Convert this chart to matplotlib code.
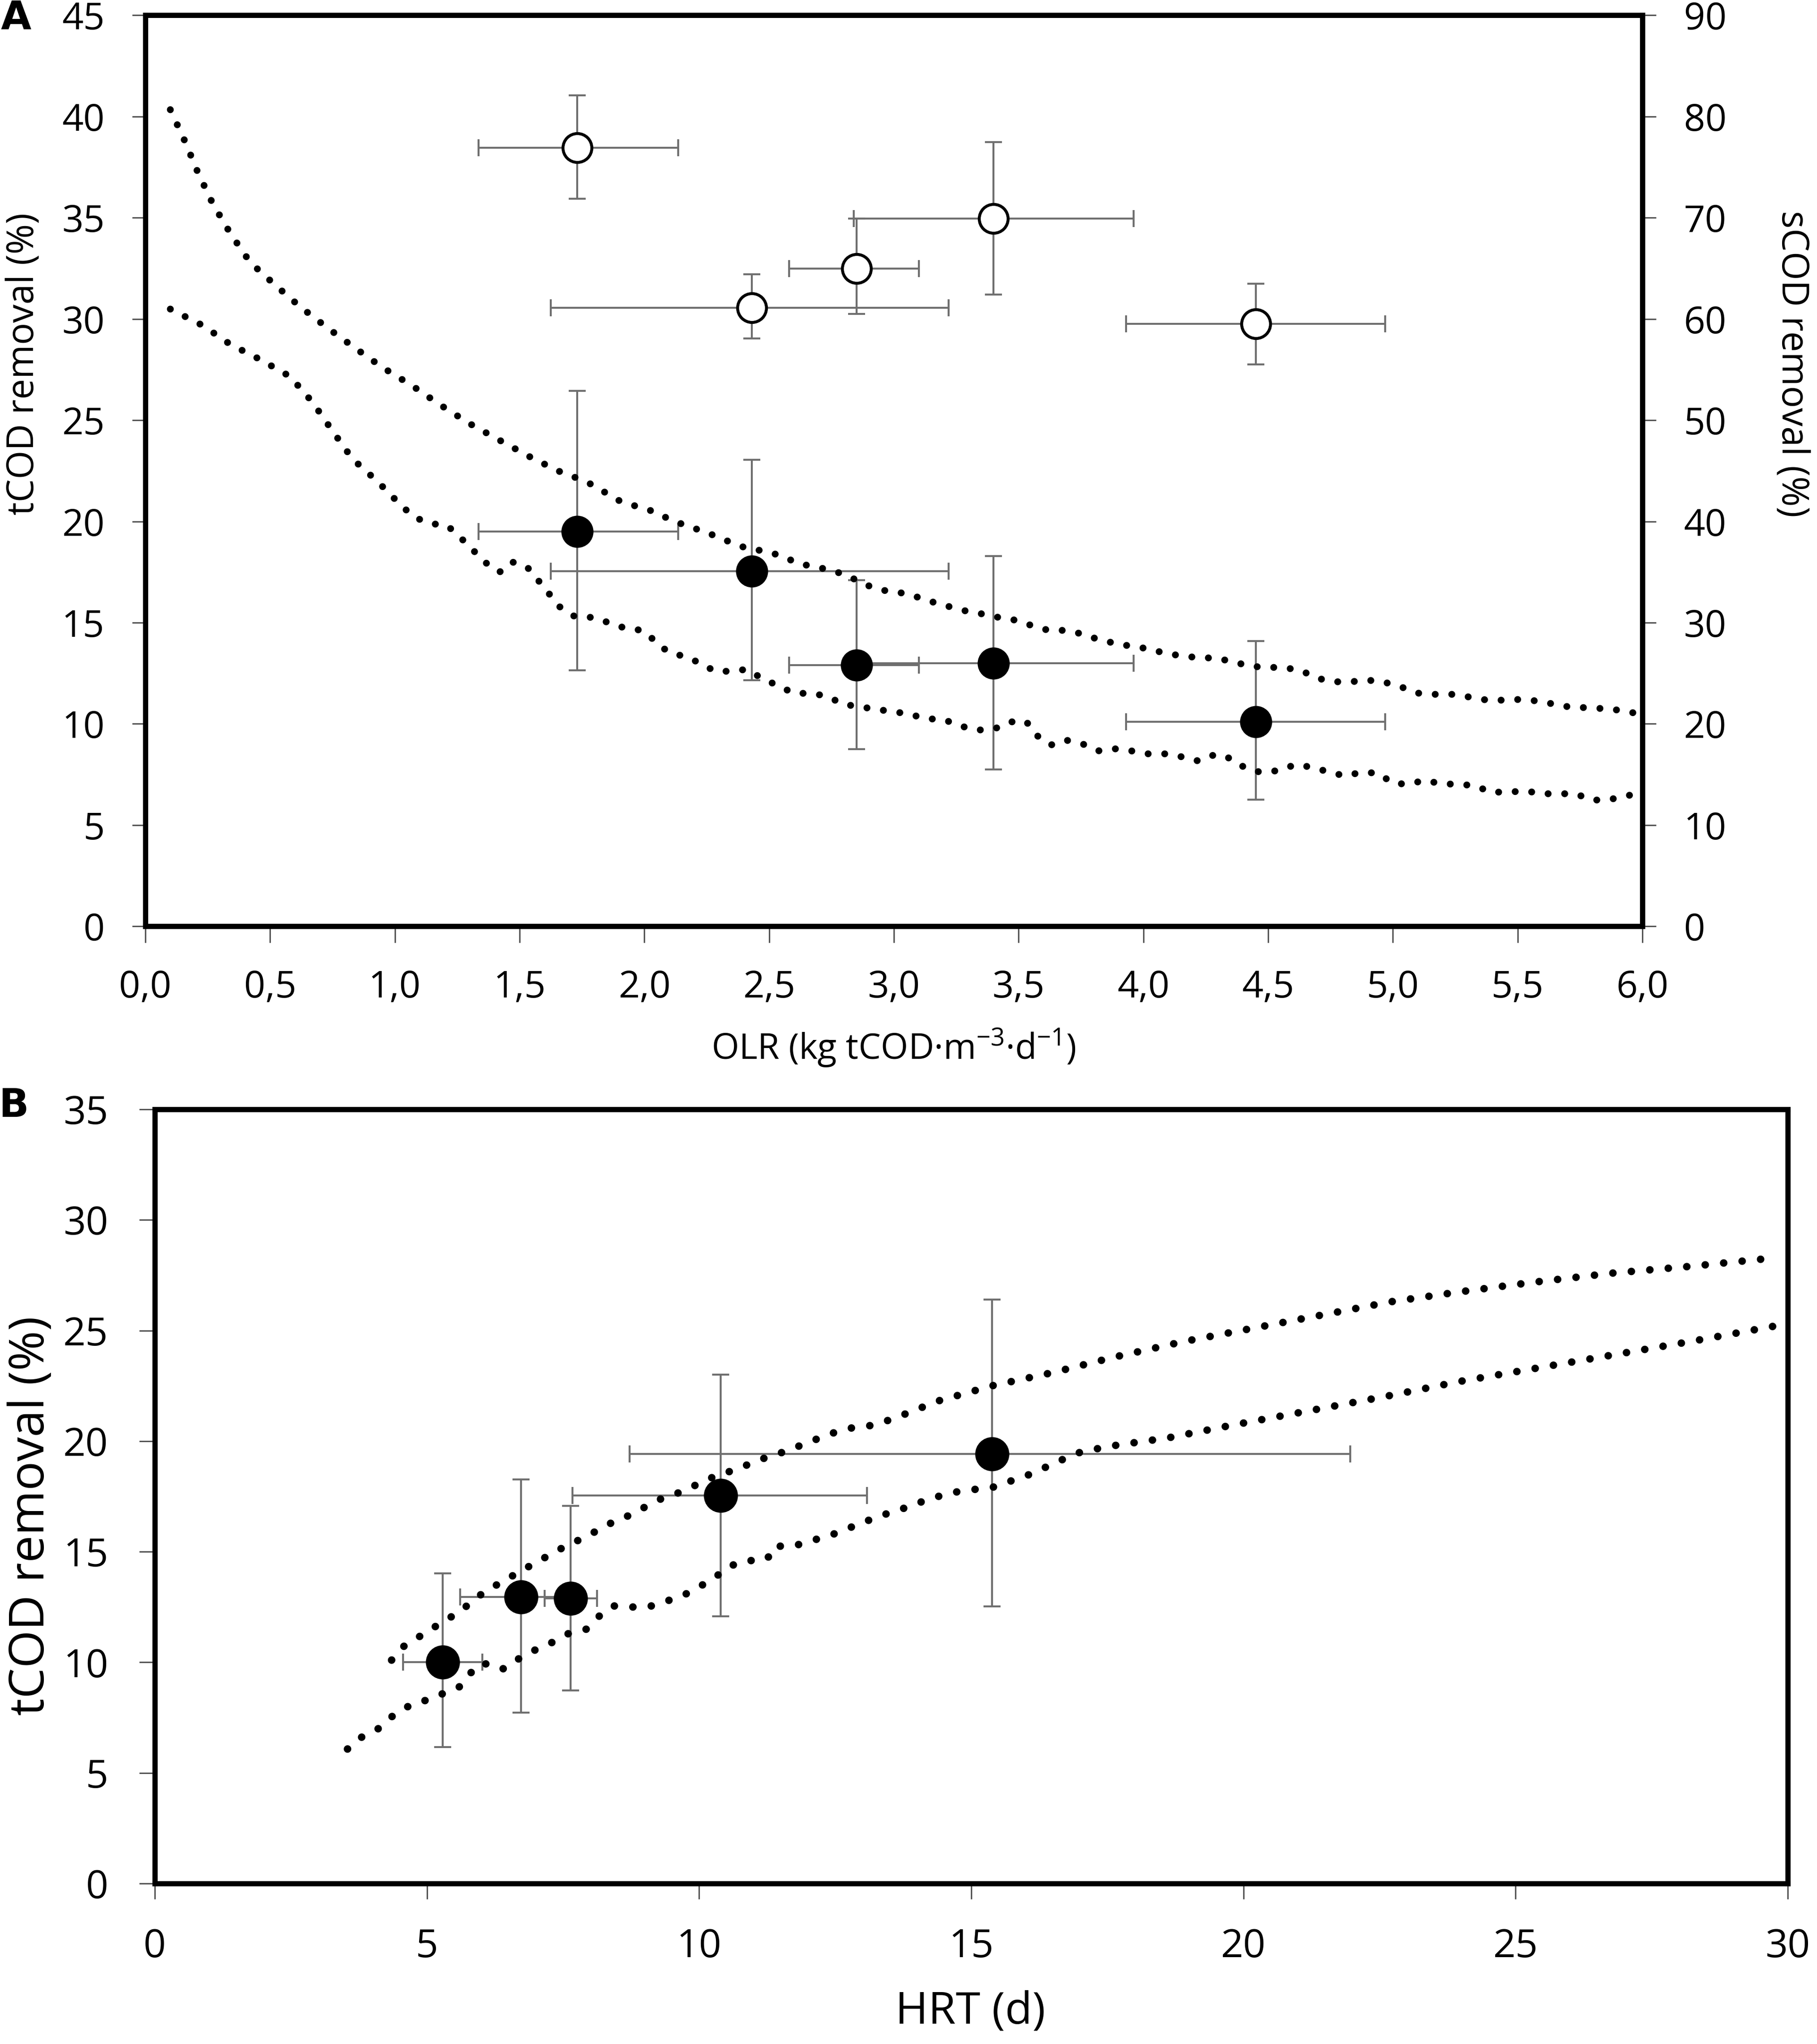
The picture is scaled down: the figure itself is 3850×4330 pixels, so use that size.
import numpy as np
import matplotlib
matplotlib.use("Agg")
import matplotlib.pyplot as plt

plt.rcParams['font.family'] = ['Open Sans', 'DejaVu Sans']
plt.rcParams['mathtext.default'] = 'regular'

# ---- panel A: removal vs OLR ----
olr = [1.73, 2.43, 2.85, 3.40, 4.45]
olr_lo = [1.335, 1.625, 2.58, 2.84, 3.93]
olr_hi = [2.135, 3.22, 3.10, 3.96, 4.97]

tcod = [19.5, 17.55, 12.9, 13.0, 10.1]
tcod_lo = [12.65, 12.15, 8.75, 7.75, 6.25]
tcod_hi = [26.45, 23.05, 17.1, 18.3, 14.1]

scod = [76.9, 61.1, 65.0, 69.9, 59.5]
scod_lo = [71.9, 58.1, 60.5, 62.4, 55.5]
scod_hi = [82.1, 64.4, 69.9, 77.5, 63.5]

# dotted envelope curves
a_up_x = [0.10, 0.16, 0.21, 0.27, 0.34, 0.42, 0.52, 0.62, 0.73, 0.84, 0.95, 1.07, 1.18, 1.30,
          1.42, 1.54, 1.60, 1.66, 1.73, 1.79, 1.85, 1.91, 1.98, 2.04, 2.10, 2.17, 2.23, 2.30,
          2.36, 2.42, 2.49, 2.56, 2.62, 2.69, 2.76, 2.82, 2.88, 2.95, 3.02, 3.09, 3.15, 3.22,
          3.28, 3.35, 3.42, 3.48, 3.55, 3.62, 3.68, 3.75, 3.82, 3.89, 3.95, 4.02, 4.09, 4.16,
          4.23, 4.29, 4.36, 4.43, 4.49, 4.56, 4.63, 4.70, 4.76, 4.83, 4.90, 4.96, 5.03, 5.10,
          5.17, 5.24, 5.30, 5.37, 5.44, 5.51, 5.58, 5.64, 5.71, 5.78, 5.85, 5.92, 5.99]
a_up_y = [40.34, 38.74, 37.25, 35.70, 34.24, 32.80, 31.68, 30.61, 29.56, 28.57, 27.61, 26.70,
          25.77, 24.83, 24.01, 23.20, 22.83, 22.47, 22.14, 21.82, 21.38, 20.95, 20.71, 20.48,
          20.11, 19.78, 19.54, 19.21, 18.89, 18.64, 18.53, 18.24, 17.91, 17.75, 17.55, 17.29,
          16.90, 16.61, 16.50, 16.28, 16.04, 15.80, 15.60, 15.44, 15.26, 15.14, 14.87, 14.62,
          14.62, 14.46, 14.17, 13.97, 13.84, 13.71, 13.48, 13.35, 13.26, 13.26, 13.06, 12.85,
          12.79, 12.79, 12.64, 12.25, 12.08, 12.08, 12.16, 12.08, 11.84, 11.52, 11.46, 11.46,
          11.34, 11.19, 11.17, 11.21, 11.13, 10.99, 10.83, 10.80, 10.75, 10.66, 10.48]

a_lo_x = [0.10, 0.23, 0.34, 0.46, 0.58, 0.67, 0.75, 0.83, 0.93, 1.03, 1.08, 1.14, 1.21, 1.28,
          1.32, 1.37, 1.42, 1.47, 1.53, 1.58, 1.62, 1.66, 1.72, 1.79, 1.85, 1.92, 1.99, 2.04,
          2.09, 2.16, 2.22, 2.28, 2.35, 2.41, 2.47, 2.54, 2.60, 2.67, 2.73, 2.80, 2.86, 2.93,
          3.00, 3.07, 3.13, 3.20, 3.27, 3.33, 3.40, 3.47, 3.53, 3.57, 3.63, 3.69, 3.76, 3.82,
          3.89, 3.95, 4.02, 4.09, 4.16, 4.22, 4.29, 4.35, 4.41, 4.47, 4.54, 4.61, 4.67, 4.74,
          4.81, 4.87, 4.94, 5.00, 5.06, 5.13, 5.19, 5.26, 5.33, 5.39, 5.46, 5.53, 5.60, 5.66,
          5.73, 5.80, 5.86, 5.93, 5.99]
a_lo_y = [30.49, 29.68, 28.75, 28.00, 27.16, 25.89, 24.47, 23.09, 21.98, 20.73, 20.20, 19.90,
          19.80, 19.00, 18.50, 17.90, 17.50, 18.00, 17.75, 17.01, 16.40, 15.79, 15.31, 15.26,
          15.03, 14.74, 14.62, 14.13, 13.60, 13.32, 13.03, 12.62, 12.59, 12.70, 12.26, 11.86,
          11.51, 11.51, 11.37, 10.96, 10.86, 10.71, 10.61, 10.45, 10.26, 10.21, 9.89, 9.69,
          9.74, 10.10, 10.13, 9.45, 8.96, 9.20, 8.99, 8.67, 8.77, 8.67, 8.52, 8.52, 8.36, 8.17,
          8.50, 8.29, 7.81, 7.61, 7.69, 7.99, 7.87, 7.64, 7.42, 7.61, 7.57, 7.07, 7.02, 7.22,
          7.04, 7.02, 6.95, 6.63, 6.63, 6.69, 6.55, 6.55, 6.55, 6.24, 6.24, 6.43, 6.58]

olr_ticks = [0.0, 0.5, 1.0, 1.5, 2.0, 2.5, 3.0, 3.5, 4.0, 4.5, 5.0, 5.5, 6.0]
olr_ticklabels = ['0,0', '0,5', '1,0', '1,5', '2,0', '2,5', '3,0', '3,5', '4,0', '4,5',
                  '5,0', '5,5', '6,0']

# ---- panel B: removal vs HRT ----
hrt = [5.29, 6.73, 7.64, 10.40, 15.38]
hrt_lo = [4.56, 5.61, 7.16, 7.67, 8.72]
hrt_hi = [6.02, 7.85, 8.12, 13.08, 21.96]
tcod_b = [10.0, 12.96, 12.88, 17.54, 19.42]
tcod_b_lo = [6.17, 7.72, 8.74, 12.09, 12.53]
tcod_b_hi = [14.02, 18.27, 17.07, 23.0, 26.39]

b_up_x = [4.35, 4.56, 4.82, 5.11, 5.37, 5.62, 5.86, 6.14, 6.42, 6.71, 6.99, 7.29, 7.58, 7.86,
          8.16, 8.46, 8.78, 9.06, 9.35, 9.67, 9.97, 10.28, 10.59, 10.91, 11.22, 11.54, 11.86,
          12.17, 12.50, 12.81, 13.14, 13.43, 13.76, 14.07, 14.37, 15.38, 16.50, 17.63, 18.90,
          20.17, 21.44, 22.71, 23.98, 25.39, 26.80, 28.21, 29.83]
b_up_y = [10.1, 10.7, 11.1, 11.55, 11.95, 12.3, 12.85, 13.3, 13.7, 14.1, 14.5, 14.9, 15.3, 15.6,
          16.0, 16.4, 16.7, 17.1, 17.45, 17.7, 18.05, 18.4, 18.65, 18.95, 19.25, 19.5, 19.8,
          20.1, 20.4, 20.6, 20.7, 20.9, 21.2, 21.5, 21.8, 22.5, 23.1, 23.8, 24.5, 25.1, 25.7,
          26.3, 26.75, 27.2, 27.6, 27.9, 28.3]

b_lo_x = [3.54, 3.74, 4.12, 4.33, 4.50, 4.80, 5.03, 5.20, 5.42, 5.60, 5.70, 5.93, 6.19, 6.41,
          6.71, 7.02, 7.30, 7.60, 7.93, 8.17, 8.42, 8.75, 9.06, 9.38, 9.69, 9.99, 10.28, 10.51,
          10.86, 11.19, 11.37, 11.40, 11.73, 12.06, 12.37, 12.68, 12.99, 13.30, 13.62, 13.93,
          14.23, 14.81, 15.38, 16.08, 16.93, 17.49, 18.62, 19.75, 21.16, 22.57, 23.98, 25.39,
          26.80, 28.21, 29.76]
b_lo_y = [6.08, 6.54, 7.02, 7.5, 7.8, 8.2, 8.3, 8.5, 8.7, 8.9, 9.2, 9.9, 9.95, 9.7, 10.2, 10.6,
          10.9, 11.3, 11.5, 12.1, 12.55, 12.5, 12.5, 12.75, 13.0, 13.4, 13.8, 14.3, 14.6, 14.6,
          14.95, 15.25, 15.25, 15.5, 15.7, 16.0, 16.3, 16.6, 16.85, 17.1, 17.4, 17.75, 17.9,
          18.5, 19.45, 19.75, 20.15, 20.7, 21.35, 22.0, 22.7, 23.3, 23.9, 24.5, 25.2]

bar_color = '#6f6f6f'
tick_color = '#555555'


def asym(center, lo, hi):
    c = np.asarray(center)
    return [c - np.asarray(lo), np.asarray(hi) - c]


def dotted(ax, x, y, lw, gap):
    ax.plot(x, y, color='black', lw=lw, linestyle=(0, (0.01, gap)),
            dash_capstyle='round', zorder=3)


fig = plt.figure(figsize=(38.5, 43.3), dpi=100)

# ---------------- A ----------------
axA = fig.add_axes([0.0800, 0.5468, 0.8239, 0.4457])
axA2 = axA.twinx()

dotted(axA, a_up_x, a_up_y, 10.5, 2.4)
dotted(axA, a_lo_x, a_lo_y, 10.5, 2.4)

axA.errorbar(olr, tcod, xerr=asym(olr, olr_lo, olr_hi), yerr=asym(tcod, tcod_lo, tcod_hi),
             fmt='none', ecolor=bar_color, elinewidth=3, capsize=13, capthick=3, zorder=2)
axA.plot(olr, tcod, 'o', ms=48, color='black', zorder=5)

axA2.errorbar(olr, scod, xerr=asym(olr, olr_lo, olr_hi), yerr=asym(scod, scod_lo, scod_hi),
              fmt='none', ecolor=bar_color, elinewidth=3, capsize=13, capthick=3, zorder=2)
axA2.plot(olr, scod, 'o', ms=44, mfc='white', mec='black', mew=4.5, zorder=5)

axA.set_xlim(0, 6)
axA.set_ylim(0, 45)
axA2.set_ylim(0, 90)
axA.set_xticks(olr_ticks)
axA.set_xticklabels(olr_ticklabels)
axA.set_yticks(np.arange(0, 46, 5))
axA2.set_yticks(np.arange(0, 91, 10))

axA.tick_params(axis='y', direction='out', length=20, width=2.2, color=tick_color,
                pad=42, labelsize=57)
axA.tick_params(axis='x', direction='out', length=25, width=2.2, color=tick_color,
                pad=40, labelsize=57)
axA2.tick_params(axis='y', direction='out', length=21, width=2.2, color=tick_color,
                 pad=42, labelsize=57)

for sp in axA.spines.values():
    sp.set_linewidth(8)
for name, sp in axA2.spines.items():
    sp.set_linewidth(8)
    sp.set_visible(name == 'right')

fig.text(0.0088, 0.9912, 'A', weight='bold', size=60, ha='center', va='center',
         family='DejaVu Sans')
fig.text(0.013, 0.822, 'tCOD removal (%)', rotation=90, ha='center', va='center', size=56)
fig.text(0.986, 0.822, 'sCOD removal (%)', rotation=270, ha='center', va='center', size=56)
fig.text(0.4917, 0.4873, 'OLR (kg tCOD·m$^{-3}$·d$^{-1}$)', ha='center', va='center', size=54)

# ---------------- B ----------------
axB = fig.add_axes([0.0852, 0.0785, 0.8987, 0.3788])

dotted(axB, b_up_x, b_up_y, 11.5, 2.45)
dotted(axB, b_lo_x, b_lo_y, 11.5, 2.45)

axB.errorbar(hrt, tcod_b, xerr=asym(hrt, hrt_lo, hrt_hi), yerr=asym(tcod_b, tcod_b_lo, tcod_b_hi),
             fmt='none', ecolor=bar_color, elinewidth=3, capsize=13, capthick=3, zorder=2)
axB.plot(hrt, tcod_b, 'o', ms=51, color='black', zorder=5)

axB.set_xlim(0, 30)
axB.set_ylim(0, 35)
axB.set_xticks(np.arange(0, 31, 5))
axB.set_yticks(np.arange(0, 36, 5))
axB.tick_params(axis='both', direction='out', length=24, width=2.2, color=tick_color,
                labelsize=60)
axB.tick_params(axis='y', pad=47)
axB.tick_params(axis='x', pad=43)
for sp in axB.spines.values():
    sp.set_linewidth(8)

fig.text(0.0075, 0.4591, 'B', weight='bold', size=60, ha='center', va='center',
         family='DejaVu Sans')
fig.text(0.0174, 0.2584, 'tCOD removal (%)', rotation=90, ha='center', va='center', size=74)
fig.text(0.534, 0.0157, 'HRT (d)', ha='center', va='center', size=68)

fig.savefig('out.png', dpi=100)
